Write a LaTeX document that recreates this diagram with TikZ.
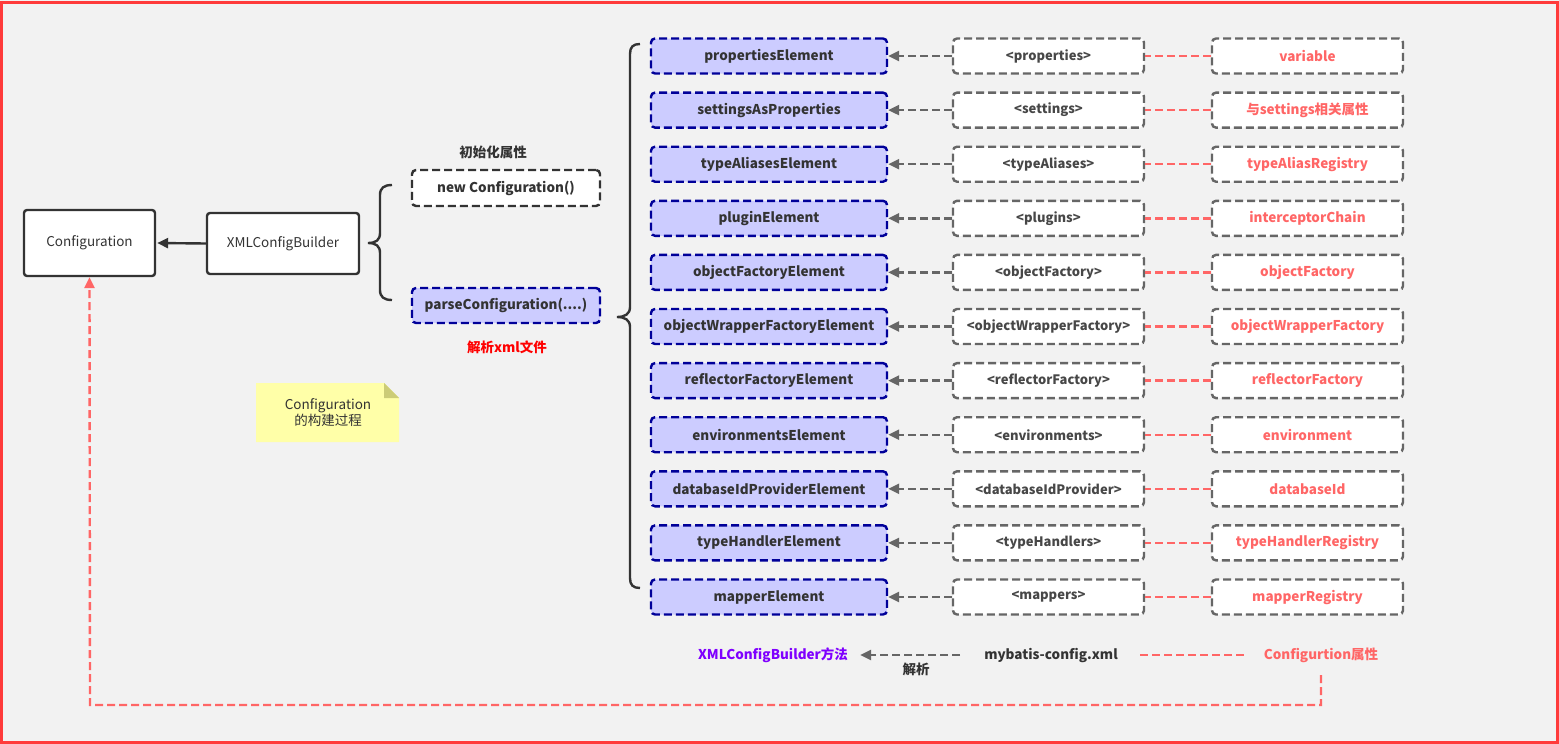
\documentclass[tikz,border=0pt]{standalone}
\usepackage{fontspec}
\setmainfont{Noto Sans CJK SC}
\usetikzlibrary{arrows.meta}
\definecolor{bgc}{HTML}{F2F2F2}
\definecolor{frame}{HTML}{FF3B3B}
\definecolor{dk}{HTML}{333333}
\definecolor{gr}{HTML}{666666}
\definecolor{lav}{HTML}{CCCCFF}
\definecolor{nv}{HTML}{000099}
\definecolor{pk}{HTML}{FF6666}
\definecolor{pur}{HTML}{7F00FF}
\definecolor{ylw}{HTML}{FFFFA8}
\definecolor{fold}{HTML}{CCCC77}
\tikzset{
  dsh/.style={dash pattern=on 8pt off 4pt},
  solidbox/.style={draw=dk, fill=white, line width=2.4pt, rounded corners=3pt, font=\fontsize{13.5}{15}\selectfont, text=dk},
  methodbox/.style={draw=nv, fill=lav, line width=2.4pt, dsh, rounded corners=4pt, minimum width=236pt, minimum height=35pt, font=\bfseries\fontsize{13.5}{15}\selectfont, text=dk},
  tagbox/.style={draw=gr, fill=white, line width=2.4pt, dsh, rounded corners=4pt, minimum width=191pt, minimum height=35pt, font=\bfseries\fontsize{13}{15}\selectfont, text=dk!90},
  attrbox/.style={draw=gr, fill=white, line width=2.4pt, dsh, rounded corners=4pt, minimum width=191pt, minimum height=35pt, font=\bfseries\fontsize{13.5}{15}\selectfont, text=pk},
  parsearrow/.style={draw=gr, line width=2.4pt, dsh, -{Triangle[length=11pt,width=10pt]}},
  attrline/.style={draw=pk, line width=2.4pt, dsh},
  bracestyle/.style={draw=dk, line width=2.4pt},
  lbl/.style={font=\bfseries\fontsize{13.5}{15}\selectfont, inner sep=0pt}
}
\begin{document}
\begin{tikzpicture}[x=1pt,y=-1pt]
\useasboundingbox (0,0) rectangle (1559,744);
\fill[bgc] (0,0) rectangle (1559,744);
\draw[frame, line width=3.2pt] (1.6,2.6) rectangle (1557.4,742.4);

% left part
\node[solidbox, minimum width=131pt, minimum height=66pt] (conf) at (89.5,243) {Configuration};
\node[solidbox, minimum width=152pt, minimum height=61pt] (xcb) at (283,243.5) {XMLConfigBuilder};
\draw[dk, line width=2.4pt, -{Triangle[length=11pt,width=10pt]}, shorten >=1pt] (xcb.west) -- (conf.east);

% small brace
\draw[bracestyle] (392,185) .. controls (384,185) and (380,188) .. (380,195) -- (380,233)
  .. controls (380,240) and (376,243) .. (368,243) .. controls (376,243) and (380,246) .. (380,253)
  -- (380,290) .. controls (380,297) and (384,300) .. (392,300);

\node[lbl, text=dk] (initlbl) at (493,152) {初始化属性};
\node[solidbox, dsh, rounded corners=4pt, minimum width=188pt, minimum height=36pt, font=\bfseries\fontsize{13.5}{15}\selectfont] (newconf) at (506,188) {new Configuration()};
\node[methodbox, minimum width=188pt, minimum height=35pt] (parse) at (506,305.5) {parseConfiguration(....)};
\node[lbl, text=red] (parselbl) at (507,347) {解析xml文件};

% note
\fill[ylw] (256,383) -- (384,383) -- (399,398) -- (399,442) -- (256,442) -- cycle;
\fill[fold] (384,383) -- (399,398) -- (384,398) -- cycle;
\node[align=center, text=dk, font=\fontsize{13.5}{16}\selectfont, inner sep=0pt] (note) at (328,413) {Configuration\\的构建过程};

% big brace
\draw[bracestyle] (640,44) .. controls (633,44) and (630,47) .. (630,54) -- (630,307)
  .. controls (630,314) and (625,317) .. (617,317) .. controls (625,317) and (630,320) .. (630,327)
  -- (630,578) .. controls (630,585) and (633,588) .. (640,588);

% rows
\foreach \i/\a/\b/\c in {
  1/propertiesElement/{<properties>}/variable,
  2/settingsAsProperties/{<settings>}/与settings相关属性,
  3/typeAliasesElement/{<typeAliases>}/typeAliasRegistry,
  4/pluginElement/{<plugins>}/interceptorChain,
  5/objectFactoryElement/{<objectFactory>}/objectFactory,
  6/objectWrapperFactoryElement/{<objectWrapperFactory>}/objectWrapperFactory,
  7/reflectorFactoryElement/{<reflectorFactory>}/reflectorFactory,
  8/environmentsElement/{<environments>}/environment,
  9/databaseIdProviderElement/{<databaseIdProvider>}/databaseId,
  10/typeHandlerElement/{<typeHandlers>}/typeHandlerRegistry,
  11/mapperElement/{<mappers>}/mapperRegistry}{
  \pgfmathsetmacro{\yy}{56+54.1*(\i-1)}
  \node[methodbox] (m\i) at (769,\yy) {\a};
  \node[tagbox] (t\i) at (1048.5,\yy) {\b};
  \node[attrbox] (a\i) at (1307.5,\yy) {\c};
  \draw[parsearrow] (t\i.west) -- (m\i.east);
  \draw[attrline] (a\i.west) -- (t\i.east);
}

% legend
\node[lbl, text=pur] (lgm) at (773,655) {XMLConfigBuilder方法};
\node[lbl, text=dk] (lgx) at (1051,655) {mybatis-config.xml};
\node[lbl, text=pk] (lgc) at (1321,655) {Configurtion属性};
\node[lbl, text=dk] (lgp) at (916,669) {解析};
\draw[parsearrow] ([xshift=-24pt]lgx.west) -- ([xshift=12pt]lgm.east);
\draw[attrline] ([xshift=-20pt]lgc.west) -- ([xshift=22pt]lgx.east);

% return path
\coordinate (r1) at (1321,675);
\coordinate (r2) at (90,705);
\draw[attrline, -{Triangle[length=11pt,width=10pt]}] (r1) |- (r2) -- (conf.south);
\end{tikzpicture}
\end{document}
